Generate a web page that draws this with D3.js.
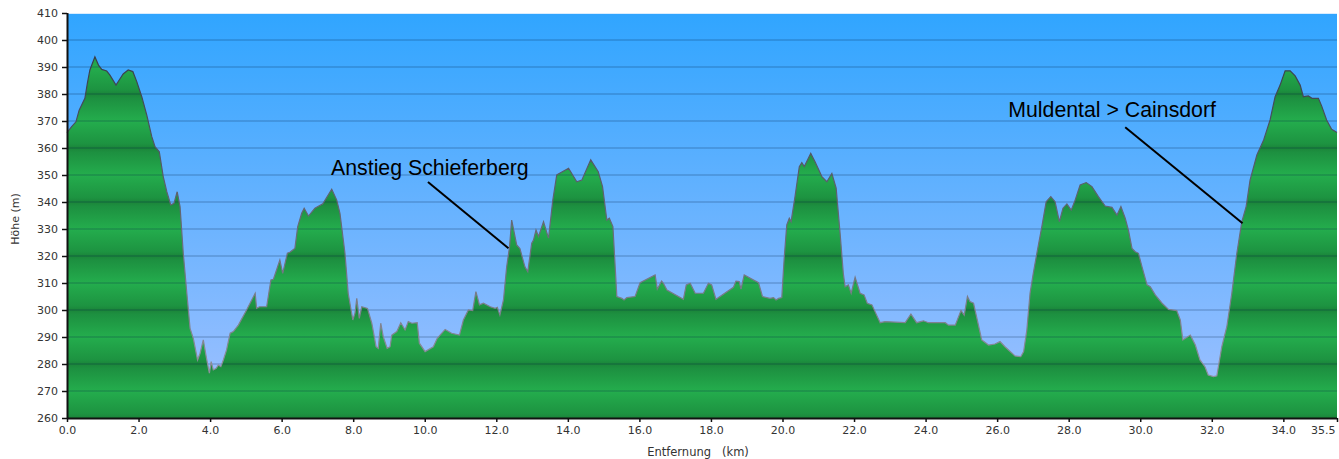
<!DOCTYPE html>
<html><head><meta charset="utf-8">
<script src="https://cdn.jsdelivr.net/npm/d3@7"></script>
<style>
html,body{margin:0;padding:0;background:#fff;}
svg{display:block;}
</style></head>
<body>
<svg id="chart" width="1339" height="459"></svg>
<script>
const distanceKm = [0,0.13,0.25,0.34,0.5,0.57,0.64,0.78,0.88,0.97,1.11,1.2,1.37,1.46,1.57,1.71,1.84,1.95,2.09,2.23,2.37,2.46,2.58,2.69,2.79,2.9,2.99,3.08,3.16,3.25,3.35,3.44,3.53,3.65,3.72,3.81,3.9,3.98,4.03,4.09,4.17,4.23,4.3,4.37,4.46,4.56,4.65,4.79,5.02,5.26,5.3,5.38,5.58,5.7,5.77,5.95,6.03,6.16,6.23,6.31,6.37,6.45,6.56,6.63,6.75,6.93,7.15,7.4,7.54,7.63,7.77,7.86,7.99,8.05,8.1,8.17,8.24,8.4,8.52,8.64,8.7,8.77,8.84,8.95,9.03,9.08,9.22,9.33,9.45,9.54,9.64,9.79,9.85,10.01,10.24,10.35,10.57,10.75,10.97,11.08,11.22,11.34,11.43,11.53,11.64,11.83,11.97,12.03,12.1,12.2,12.29,12.37,12.43,12.57,12.66,12.8,12.88,12.99,13.04,13.11,13.18,13.32,13.46,13.58,13.69,14.02,14.25,14.39,14.64,14.85,14.97,15.09,15.16,15.26,15.37,15.51,15.57,15.65,15.88,16.02,16.44,16.5,16.62,16.67,16.77,17.23,17.31,17.42,17.56,17.79,17.93,18.02,18.14,18.63,18.7,18.79,18.84,18.93,19.33,19.44,19.65,19.75,19.82,19.89,19.98,20.05,20.12,20.19,20.24,20.35,20.47,20.54,20.61,20.79,20.91,21.1,21.24,21.38,21.5,21.61,21.7,21.75,21.84,21.92,22.03,22.17,22.28,22.37,22.5,22.73,22.87,23.43,23.59,23.75,23.94,24.08,24.55,24.64,24.83,24.99,25.08,25.17,25.24,25.34,25.57,25.76,25.94,26.08,26.22,26.5,26.66,26.74,26.83,26.92,27.01,27.11,27.25,27.37,27.5,27.62,27.74,27.84,27.95,28.07,28.18,28.32,28.49,28.65,28.83,29.02,29.21,29.35,29.46,29.58,29.67,29.77,29.86,29.95,30.05,30.19,30.28,30.42,30.61,30.79,31.02,31.12,31.19,31.4,31.54,31.67,31.81,31.9,32.05,32.14,32.28,32.42,32.56,32.7,32.84,32.96,33.07,33.26,33.45,33.63,33.77,33.91,34.05,34.19,34.33,34.47,34.56,34.7,34.8,34.98,35.07,35.21,35.35,35.5];
const elevationM = [365.7,367.9,369.7,374,378.4,384,388.9,393.8,390.7,389.1,388.5,387,383.3,385.2,387.4,388.9,388.3,384.6,379,372.2,364.2,360.5,358.6,349.4,343.8,338.9,339.5,343.8,338.3,321,306.2,293.2,289.5,281.5,284,288.9,282.1,276.6,280.9,277.8,278.4,279.6,279,281.5,285.2,291.4,292,294.4,300,306.2,300.6,301.2,301.2,311.1,311.4,318.5,313.6,321,321.4,322.2,322.8,330.9,335.8,337.7,334.8,337.7,339.3,344.7,340.7,335.8,321,306.2,296.3,298.8,304.3,296.9,301.2,300.6,295.1,286.4,285.8,295.1,290.1,285.8,286.4,290.7,292,295.3,292.6,295.7,295.1,295.3,287.7,284.6,286.4,289.5,292.8,291.4,290.7,296.3,300,299.8,306.8,301.9,302.5,301.2,300.6,301,298.1,303.7,316,323.4,333.3,324.1,322.8,316,314.2,324.7,325.9,329.6,327.2,332.7,326.6,340.7,350,352.5,347.5,348.1,355.6,351.2,345.7,333.3,334,330.9,305,304.3,303.7,304.6,305,310.1,313,307.7,310.7,309.9,307.4,304,309.3,309.9,306.2,306.2,309.9,309.3,304,308.4,310.7,310.5,307.7,313,310.1,305,304.3,304.6,303.7,304.3,304.6,319.7,331.5,334,332.7,342,353.1,354.6,353.1,358,354.9,349.4,347.5,350.6,345.1,328.4,313.6,308.6,309.3,306.2,312.1,306.2,305.6,302.5,301.9,295.3,295.7,295.3,298.5,295.3,296,295.3,295.3,294.4,294.4,299.8,298.1,305,303.1,302.5,288.9,287,287.4,288.3,286.4,283,282.7,284.6,292.6,306.2,313.6,321,330.9,340.1,342,340.1,332.7,337.7,339.3,337,340.7,346.3,347.2,345.7,342,338.5,338,335.2,338.3,334,329.6,322.8,321.6,321,316,309.3,308.6,305.6,302.5,300.2,299.8,296.3,288.9,290.7,287,281.5,279,275.9,275.3,275.6,286.4,293.8,306.2,321,332.7,338.3,348.1,357.4,363,370.4,379,383.3,388.6,388.6,386.7,383.3,379,379.3,378.4,378.4,375.6,370.4,366.9,365.7];
const xTickValues = [0,2,4,6,8,10,12,14,16,18,20,22,24,26,28,30,32,34,35.5];
const yTickValues = [260,270,280,290,300,310,320,330,340,350,360,370,380,390,400,410];
const annotationTexts = ["Anstieg Schieferberg", "Muldental > Cainsdorf"];
const annotationTextKm = [7.38, 26.31];
const annotationTextM = [350, 371.4];
const annotationFromKm = [10.09, 29.58];
const annotationFromM = [347.4, 367.7];
const annotationToKm = [12.34, 32.86];
const annotationToM = [322.9, 332.1];

const data = distanceKm.map((d,i)=>({km:d, m:elevationM[i]}));
const svg = d3.select("#chart");
const L = 67, R = 1337, T = 13, B = 418;
const x = d3.scaleLinear().domain([0,35.5]).range([L,R]);
const y = d3.scaleLinear().domain([260,410]).range([B,T]);

const defs = svg.append("defs");
const sky = defs.append("linearGradient").attr("id","sky").attr("gradientUnits","userSpaceOnUse")
  .attr("x1",0).attr("x2",0).attr("y1",T).attr("y2",B);
sky.append("stop").attr("offset",0).attr("stop-color","#30a5ff");
sky.append("stop").attr("offset",1).attr("stop-color","#a2c1ff");

const grn = defs.append("linearGradient").attr("id","grn").attr("gradientUnits","userSpaceOnUse")
  .attr("spreadMethod","repeat").attr("x1",0).attr("x2",0).attr("y1",y(300)).attr("y2",y(280));
grn.append("stop").attr("offset",0).attr("stop-color","#1b853a");
grn.append("stop").attr("offset",0.08).attr("stop-color","#1d9040");
grn.append("stop").attr("offset",0.5).attr("stop-color","#24ad4d");
grn.append("stop").attr("offset",0.92).attr("stop-color","#1d9341");
grn.append("stop").attr("offset",1).attr("stop-color","#1b853a");

const strokeGrad = defs.append("linearGradient").attr("id","strk").attr("gradientUnits","userSpaceOnUse")
  .attr("x1",0).attr("x2",0).attr("y1",T).attr("y2",B);
strokeGrad.append("stop").attr("offset",0).attr("stop-color","#2c3340");
strokeGrad.append("stop").attr("offset",1).attr("stop-color","#9a9aa8");

svg.append("rect").attr("x",L).attr("y",T).attr("width",R-L).attr("height",B-T).attr("fill","url(#sky)");
svg.append("line").attr("x1",L).attr("x2",R).attr("y1",T+0.5).attr("y2",T+0.5).attr("stroke","#d8ecff").attr("stroke-width",1);

const area = d3.area().x(d=>x(d.km)).y0(B).y1(d=>y(d.m));
const line = d3.line().x(d=>x(d.km)).y(d=>y(d.m));
svg.append("path").datum(data).attr("d",area).attr("fill","url(#grn)");

// gridlines
svg.append("g").selectAll("line").data(yTickValues.filter(v=>v>260 && v<410)).join("line")
  .attr("x1",L).attr("x2",R).attr("y1",d=>y(d)).attr("y2",d=>y(d))
  .attr("stroke","rgba(0,30,70,0.22)").attr("stroke-width",1.3);

svg.append("path").datum(data).attr("d",line).attr("fill","none")
  .attr("stroke","url(#strk)").attr("stroke-width",1.2);

// axes
const yAxis = d3.axisLeft(y).tickValues(yTickValues).tickFormat(d3.format("d")).tickSize(5).tickPadding(4);
const gy = svg.append("g").attr("transform",`translate(${L},0)`).call(yAxis);
const xAxis = d3.axisBottom(x).tickValues(xTickValues).tickFormat(d3.format(".1f")).tickSize(4).tickPadding(4);
const gx = svg.append("g").attr("transform",`translate(0,${B})`).call(xAxis);
[gy,gx].forEach(g=>{
  g.select(".domain").attr("stroke","#111").attr("stroke-width",2);
  g.selectAll(".tick line").attr("stroke","#111").attr("stroke-width",1.5);
  g.selectAll(".tick text").attr("fill","#333").style("font-family","'DejaVu Sans', Verdana, sans-serif").style("font-size","11px");
});
gx.select(".domain").attr("d",`M${L},0.5H${R}`);
gy.select(".domain").attr("d",`M0.5,${T}V${B}`);
gx.selectAll(".tick").filter(d=>d===35.5).select("text").attr("text-anchor","end").attr("x",-2);

svg.append("text").attr("transform",`translate(19,219) rotate(-90)`).attr("text-anchor","middle")
  .style("font-family","'DejaVu Sans', Verdana, sans-serif").style("font-size","11px").attr("fill","#333").text("Höhe (m)");
svg.append("text").attr("x",698).attr("y",456).attr("text-anchor","middle").attr("xml:space","preserve")
  .style("font-family","'DejaVu Sans', Verdana, sans-serif").style("font-size","11.5px").attr("fill","#333").text("Entfernung   (km)");

// annotations
const ann = annotationTexts.map((t,i)=>({t, tk:annotationTextKm[i], tm:annotationTextM[i], fk:annotationFromKm[i], fm:annotationFromM[i], ak:annotationToKm[i], am:annotationToM[i]}));
const ag = svg.append("g");
ag.selectAll("line").data(ann).join("line")
  .attr("x1",d=>x(d.fk)).attr("y1",d=>y(d.fm)).attr("x2",d=>x(d.ak)).attr("y2",d=>y(d.am))
  .attr("stroke","#000").attr("stroke-width",2);
ag.selectAll("text").data(ann).join("text")
  .attr("x",d=>x(d.tk)).attr("y",d=>y(d.tm)).text(d=>d.t)
  .style("font-family","'Liberation Sans', Arial, sans-serif").style("font-size","21.3px").attr("fill","#000");
</script>
</body></html>
